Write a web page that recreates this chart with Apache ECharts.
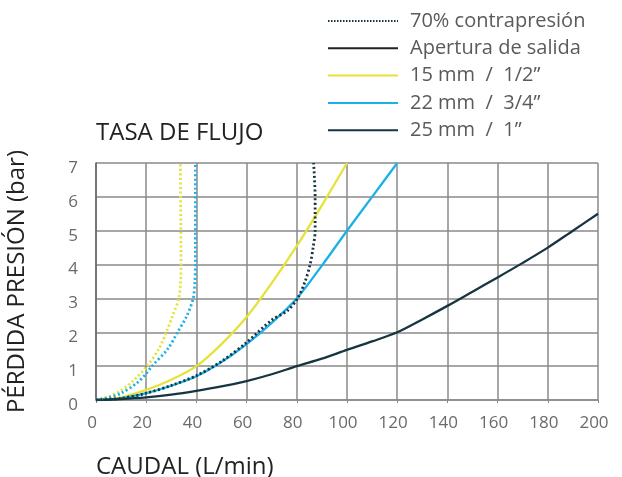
<!DOCTYPE html>
<html>
<head>
<meta charset="utf-8">
<script src="https://cdn.jsdelivr.net/npm/echarts@6/dist/echarts.min.js"></script>
<style>
html,body{margin:0;padding:0;background:#fff;}
#chart{width:622px;height:477px;}
</style>
</head>
<body>
<div id="chart"></div>
<script>
// ---- data ----
var xTicks = [0, 20, 40, 60, 80, 100, 120, 140, 160, 180, 200];
var yTicks = [0, 1, 2, 3, 4, 5, 6, 7];

var navyX = [0, 10, 20, 30, 40, 50, 60, 70, 80, 90, 100, 110, 120, 130, 140, 150, 160, 170, 180, 190, 200];
var navyY = [0, 0.03, 0.08, 0.16, 0.27, 0.4, 0.56, 0.76, 1.0, 1.22, 1.48, 1.73, 2.0, 2.38, 2.78, 3.2, 3.62, 4.05, 4.5, 5.0, 5.5];

var yellowX = [0, 10, 20, 30, 40, 50, 60, 70, 80, 90, 100];
var yellowY = [0, 0.08, 0.3, 0.6, 1.0, 1.65, 2.45, 3.45, 4.55, 5.75, 7.0];

var blueX = [0, 10, 20, 30, 40, 50, 60, 70, 80, 90, 100, 110, 120];
var blueY = [0, 0.05, 0.2, 0.42, 0.7, 1.12, 1.65, 2.28, 3.0, 3.97, 5.0, 6.0, 7.0];

var navyDotX = [0, 10, 20, 30, 40, 50, 60, 70, 76.3, 80.3, 83.3, 85.3, 86.5, 87.3, 87.3, 86.7];
var navyDotY = [0, 0.05, 0.2, 0.43, 0.72, 1.14, 1.7, 2.36, 2.64, 3.0, 3.5, 4.0, 4.5, 5.0, 6.0, 7.0];

var yellowDotX = [0, 5, 10, 15, 20, 25, 28, 30.6, 33, 33.7, 33.9, 33.8, 33.7, 33.6];
var yellowDotY = [0, 0.1, 0.28, 0.58, 0.97, 1.5, 2.0, 2.5, 3.0, 3.5, 4.0, 5.0, 6.0, 7.0];

var blueDotX = [0, 5, 10, 16.3, 20, 22.3, 28.5, 32.5, 36.3, 38.7, 39.4, 39.6, 39.6];
var blueDotY = [0, 0.07, 0.2, 0.5, 0.78, 1.0, 1.5, 2.0, 2.5, 3.0, 3.5, 4.0, 7.0];

var legendNames = ['70% contrapresión', 'Apertura de salida', '15 mm  /  1/2\u201D', '22 mm  /  3/4\u201D', '25 mm  /  1\u201D'];

function pairs(xs, ys) { return xs.map(function (x, i) { return [x, ys[i]]; }); }

var FONT = 'Open Sans';
var cYellow = '#e6e237', cBlue = '#1bb1e7', cNavy = '#173540', cBlack = '#222222';

var chart = echarts.init(document.getElementById('chart'), null, {renderer: 'canvas'});

function lineSeries(name, data, color, dotted) {
  return {
    name: name, type: 'line', data: data, symbol: 'none', showSymbol: false, smooth: 0.3,
    lineStyle: {color: color, width: dotted ? 2.8 : 2.3, type: dotted ? [2, 2.5] : 'solid', cap: 'butt'},
    itemStyle: {color: color},
    animation: false, z: dotted ? 4 : 3
  };
}

var option = {
  backgroundColor: '#ffffff',
  animation: false,
  title: [
    {text: 'TASA DE FLUJO', left: 91, top: 116,
     textStyle: {fontFamily: FONT, fontSize: 24, fontWeight: 'normal', color: '#222'}},
    {text: 'CAUDAL (L/min)', left: 91, top: 450,
     textStyle: {fontFamily: FONT, fontSize: 24, fontWeight: 'normal', color: '#222'}}
  ],
  legend: {
    data: legendNames,
    orient: 'vertical', left: 322, top: 6,
    itemWidth: 70, itemHeight: 14, itemGap: 7.3,
    itemStyle: {color: 'rgba(0,0,0,0)', borderWidth: 0, opacity: 0},
    textStyle: {fontFamily: FONT, fontSize: 20, color: '#5a5a5a', padding: [0, 0, 0, 7]},
    selectedMode: false
  },
  grid: {left: 96, right: 24, top: 163, bottom: 77, containLabel: false, outerBoundsMode: 'none'},
  xAxis: {
    type: 'value', min: 0, max: 200, interval: 20,
    axisLine: {show: true, lineStyle: {color: '#8a8a8a', width: 1.5}},
    axisTick: {show: true, length: 3, lineStyle: {color: '#8a8a8a'}},
    axisLabel: {fontFamily: FONT, fontSize: 17, color: '#6a6a6a', margin: 15, padding: [0, 8, 0, 0],
      formatter: function (v) { return xTicks.indexOf(v) >= 0 ? String(v) : ''; }},
    splitLine: {show: true, lineStyle: {color: '#8a8a8a', width: 1.5}}
  },
  yAxis: {
    type: 'value', min: 0, max: 7, interval: 1,
    name: 'PÉRDIDA PRESIÓN (bar)', nameLocation: 'middle', nameGap: 67, nameRotate: 90,
    nameTextStyle: {fontFamily: FONT, fontSize: 24, color: '#222'},
    axisLine: {show: true, lineStyle: {color: '#666', width: 1.5}},
    axisTick: {show: false},
    axisLabel: {fontFamily: FONT, fontSize: 17, color: '#6a6a6a', margin: 18,
      verticalAlign: 'top', lineHeight: 10,
      formatter: function (v) { return yTicks.indexOf(v) >= 0 ? String(v) : ''; }},
    splitLine: {show: true, lineStyle: {color: '#8a8a8a', width: 1.5}}
  },
  series: [
    // legend-only entries
    {name: legendNames[0], type: 'line', data: [], symbol: 'none',
     lineStyle: {color: cNavy, width: 2, type: [1.5, 1.5]}, itemStyle: {color: cNavy}},
    {name: legendNames[1], type: 'line', data: [], symbol: 'none',
     lineStyle: {color: cBlack, width: 2.5}, itemStyle: {color: cBlack}},
    lineSeries(legendNames[2], pairs(yellowX, yellowY), cYellow, false),
    lineSeries(legendNames[3], pairs(blueX, blueY), cBlue, false),
    lineSeries(legendNames[4], pairs(navyX, navyY), cNavy, false),
    lineSeries('15 mm 70%', pairs(yellowDotX, yellowDotY), cYellow, true),
    lineSeries('22 mm 70%', pairs(blueDotX, blueDotY), cBlue, true),
    lineSeries('22 mm 70% salida', pairs(navyDotX, navyDotY), cNavy, true)
  ]
};
chart.setOption(option);
</script>
</body>
</html>
